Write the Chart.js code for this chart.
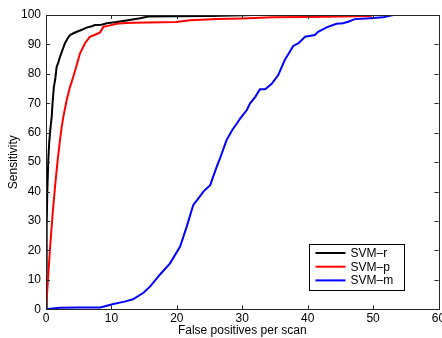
<!DOCTYPE html>
<html>
<head>
<meta charset="utf-8">
<script src="https://cdn.jsdelivr.net/npm/chart.js@4/dist/chart.umd.min.js"></script>
<style>
  html, body { margin: 0; padding: 0; background: #fff; }
  #wrap { width: 442px; height: 338px; }
</style>
</head>
<body>
<div id="wrap"><canvas id="roc"></canvas></div>
<script>
// false positives per scan (x) and sensitivity in % (y)
const svmR_fp   = [0, 0.1, 0.2, 0.35, 0.5, 0.7, 0.87, 1.0, 1.2, 1.4, 1.63, 1.9, 2.14, 2.5, 2.9, 3.3, 3.67, 4.2, 4.7, 5.5, 6.2, 7.0, 7.5, 8.5, 9.3, 10.5, 12.3, 14.4, 15.6, 20, 25, 32, 60]
const svmR_sens = [0, 28, 40, 50.7, 57, 62, 65.4, 70, 75.6, 78, 82.4, 84, 85.8, 88, 90.4, 92, 93.2, 93.8, 94.3, 95, 95.7, 96.2, 96.6, 96.7, 97.2, 97.5, 98.1, 98.9, 99.5, 99.6, 99.7, 100, 100]

const svmP_fp   = [0, 0.3, 0.6, 1.0, 1.38, 1.8, 2.14, 2.4, 2.65, 3.16, 3.67, 4.17, 4.7, 5.2, 5.96, 6.7, 7.5, 8.26, 8.8, 9.5, 10.8, 12.3, 13.3, 19.9, 22, 26.1, 30, 34.7, 40, 45, 49.5, 50, 60]
const svmP_sens = [0, 10, 20.2, 32, 41.7, 51, 57.5, 62, 65.4, 71.1, 75.5, 79, 83, 87, 90.4, 92.6, 93.3, 94.1, 96, 96.3, 97, 97.3, 97.4, 97.6, 98.2, 98.6, 98.8, 99.2, 99.3, 99.5, 99.7, 100, 100]

const svmM_fp   = [0, 2.1, 5, 8.3, 9.3, 10.3, 12, 13.3, 14.9, 15.9, 17.5, 18.96, 20.5, 21.5, 22.5, 23.5, 24.05, 25.1, 26.1, 26.6, 27.6, 28.5, 29.2, 29.7, 30.7, 31.2, 32, 32.7, 33.5, 34.5, 35.5, 36.5, 37.8, 38.6, 39.6, 41.1, 41.6, 42.9, 44.4, 45.4, 46.2, 47.2, 49, 51.5, 53.1, 60]
const svmM_sens = [0, 0.5, 0.6, 0.6, 1.2, 1.8, 2.6, 3.4, 5.6, 7.7, 12, 15.6, 21.3, 28, 35.4, 38.3, 40, 42.2, 48.5, 51.3, 57.5, 61, 63.2, 64.9, 67.7, 70, 72.2, 74.8, 74.8, 76.6, 79.6, 84.7, 89.5, 90.4, 92.6, 93.2, 94.3, 95.8, 97, 97.2, 97.7, 98.6, 98.8, 99.2, 100, 100]

const seriesNames = ['SVM\u2013r', 'SVM\u2013p', 'SVM\u2013m']
const seriesColors = ['#000000', '#ff0000', '#0000ff']

const FONT = '"Liberation Sans", Arial, Helvetica, sans-serif'

function toPoints(xs, ys){
    return xs.map((x, i) => ({x: x, y: ys[i]}))
}

// matlab style box with inward ticks on all four sides
const boxPlugin = {
    id: 'box',
    afterDatasetsDraw(chart){
        const {ctx, chartArea: a, scales} = chart
        ctx.save()
        ctx.strokeStyle = '#262626'
        ctx.lineWidth = 1
        ctx.strokeRect(Math.round(a.left) + 0.5, Math.round(a.top) + 0.5,
            Math.round(a.right - a.left), Math.round(a.bottom - a.top))
        const len = 4
        ctx.beginPath()
        scales.x.ticks.forEach(t => {
            const px = Math.round(scales.x.getPixelForValue(t.value)) + 0.5
            ctx.moveTo(px, a.bottom); ctx.lineTo(px, a.bottom - len)
            ctx.moveTo(px, a.top); ctx.lineTo(px, a.top + len)
        })
        scales.y.ticks.forEach(t => {
            const py = Math.round(scales.y.getPixelForValue(t.value)) + 0.5
            ctx.moveTo(a.left, py); ctx.lineTo(a.left + len, py)
            ctx.moveTo(a.right, py); ctx.lineTo(a.right - len, py)
        })
        ctx.stroke()
        ctx.restore()
    }
}

// legend box sitting in the lower right corner of the axes
const legendBoxPlugin = {
    id: 'legendBox',
    afterDraw(chart){
        const {ctx, chartArea: a} = chart
        const w = 95, h = 46
        const left = Math.round(a.right - 35 - w) + 0.5
        const top = Math.round(a.bottom - 19 - h) + 0.5
        ctx.save()
        ctx.fillStyle = '#fff'
        ctx.fillRect(left, top, w, h)
        ctx.strokeStyle = '#000'
        ctx.lineWidth = 1
        ctx.strokeRect(left, top, w, h)
        ctx.font = '12px ' + FONT
        ctx.textBaseline = 'middle'
        ctx.textAlign = 'left'
        chart.data.datasets.forEach((ds, i) => {
            const y = top + 8.5 + i * 13.7
            ctx.strokeStyle = ds.borderColor
            ctx.lineWidth = 2
            ctx.beginPath()
            ctx.moveTo(left + 6, y)
            ctx.lineTo(left + 36, y)
            ctx.stroke()
            ctx.fillStyle = '#000'
            ctx.fillText(ds.label, left + 41, y + 0.5)
        })
        ctx.restore()
    }
}

const allX = [svmR_fp, svmP_fp, svmM_fp]
const allY = [svmR_sens, svmP_sens, svmM_sens]

const chart = new Chart(document.getElementById('roc'), {
    type: 'scatter',
    data: {
        datasets: seriesNames.map((name, i) => ({
            label: name,
            data: toPoints(allX[i], allY[i]),
            showLine: true,
            borderColor: seriesColors[i],
            backgroundColor: seriesColors[i],
            borderWidth: 2,
            pointRadius: 0,
            tension: 0,
            order: 3 - i
        }))
    },
    options: {
        responsive: true,
        maintainAspectRatio: false,
        animation: false,
        layout: { padding: { top: 15, right: 3.5, left: 0, bottom: 0 } },
        plugins: {
            legend: { display: false },
            tooltip: { enabled: false }
        },
        scales: {
            x: {
                type: 'linear',
                min: 0, max: 60,
                grid: { display: false, drawTicks: false },
                border: { display: false },
                ticks: { stepSize: 10, color: '#000', padding: 2, font: { family: FONT, size: 12 } },
                title: { display: true, text: 'False positives per scan', color: '#000',
                         padding: { top: 0, bottom: 0 }, font: { family: FONT, size: 12 } },
                afterFit(s){ s.height = 28.7; s.paddingLeft = 0; s.paddingRight = 0 }
            },
            y: {
                type: 'linear',
                min: 0, max: 100,
                grid: { display: false, drawTicks: false },
                border: { display: false },
                ticks: { stepSize: 10, color: '#000', padding: 5, font: { family: FONT, size: 12 } },
                title: { display: true, text: 'Sensitivity', color: '#000',
                         padding: { top: 6, bottom: 0 }, font: { family: FONT, size: 12 } },
                afterFit(s){ s.width = 46; s.paddingTop = 0; s.paddingBottom = 0 }
            }
        }
    },
    plugins: [boxPlugin, legendBoxPlugin]
})
</script>
</body>
</html>
